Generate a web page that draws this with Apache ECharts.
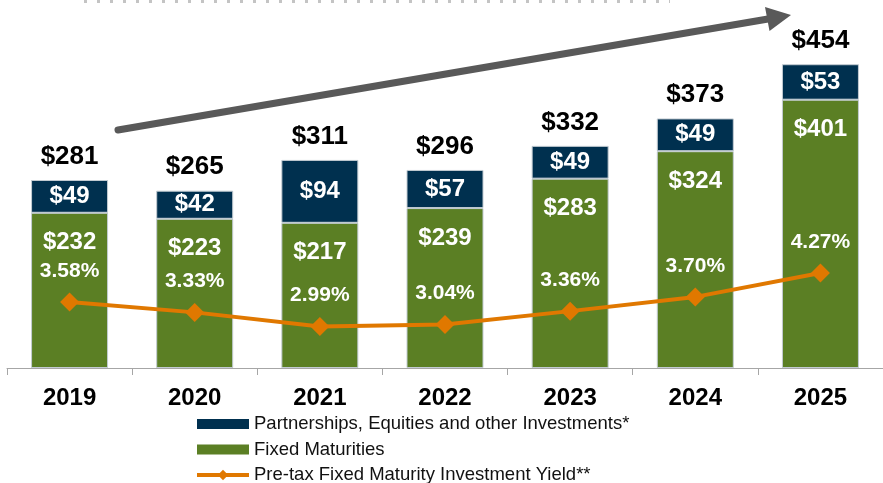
<!DOCTYPE html>
<html>
<head>
<meta charset="utf-8">
<title>Investment portfolio</title>
<script src="https://cdn.jsdelivr.net/npm/echarts@6/dist/echarts.min.js"></script>
<style>
  html, body { margin: 0; padding: 0; background: #ffffff; }
  #chart { width: 883px; height: 483px; }
</style>
</head>
<body>
<div id="chart"></div>
<script>
// values
const years = ['2019', '2020', '2021', '2022', '2023', '2024', '2025'];
const fixedMaturities = [232, 223, 217, 239, 283, 324, 401];
const partnerships = [49, 42, 94, 57, 49, 49, 53];
const totals = [281, 265, 311, 296, 332, 373, 454];
const yields = [3.58, 3.33, 2.99, 3.04, 3.36, 3.70, 4.27];

const NAVY = '#00304f';
const GREEN = '#5b7f24';
const ORANGE = '#e07800';
const FONT = '"Liberation Sans", Arial, sans-serif';

const NAME_PART = 'Partnerships, Equities and other Investments*';
const NAME_FIXED = 'Fixed Maturities';
const NAME_YIELD = 'Pre-tax Fixed Maturity Investment Yield**';

// one legend per row so they stack like the original
const legendRow = (name, top, extra) => Object.assign({
  orient: 'vertical',
  left: 197,
  top: top,
  padding: 0,
  itemWidth: 52,
  itemHeight: 10,
  itemStyle: { borderWidth: 0 },
  data: [name],
  textStyle: { fontSize: 18.5, color: '#111111', fontFamily: FONT }
}, extra);

const chart = echarts.init(document.getElementById('chart'));

chart.setOption({
  animation: false,
  textStyle: { fontFamily: FONT },
  grid: { left: 7, right: -2, top: 0, bottom: 115 },
  legend: [
    legendRow(NAME_PART, 414.5, { icon: 'rect' }),
    legendRow(NAME_FIXED, 440, { icon: 'rect' }),
    legendRow(NAME_YIELD, 465.5, { left: 195, itemHeight: 13, lineStyle: { width: 4 } })
  ],
  xAxis: {
    type: 'category',
    data: years,
    axisLine: { lineStyle: { color: '#a6a6a6', width: 1 } },
    axisTick: { show: true, length: 7, lineStyle: { color: '#a6a6a6' } },
    axisLabel: { margin: 18, fontSize: 24, fontWeight: 'bold', color: '#000000', fontFamily: FONT }
  },
  yAxis: [
    { type: 'value', min: 0, max: 550, show: false },
    { type: 'value', min: 2, max: 10.8, show: false }
  ],
  graphic: [
    {
      type: 'line',
      shape: { x1: 84, y1: 1.5, x2: 670, y2: 1.5 },
      style: { stroke: '#c4c4c4', lineWidth: 3, lineDash: [3, 10] }
    },
    {
      type: 'line',
      shape: { x1: 118, y1: 130, x2: 768, y2: 19 },
      style: { stroke: '#595959', lineWidth: 7, lineCap: 'round' }
    },
    {
      type: 'polygon',
      shape: { points: [[791, 15], [765, 7], [769.5, 31]] },
      style: { fill: '#595959' }
    }
  ],
  series: [
    {
      name: NAME_FIXED,
      type: 'bar',
      stack: 'total',
      barWidth: 77,
      data: fixedMaturities,
      itemStyle: { color: GREEN, borderColor: '#c3ccd3', borderWidth: 1 },
      label: {
        show: true,
        position: 'insideTop',
        distance: 18,
        fontSize: 24,
        fontWeight: 'bold',
        color: '#ffffff',
        formatter: (p) => '$' + p.value
      }
    },
    {
      name: NAME_PART,
      type: 'bar',
      stack: 'total',
      data: partnerships,
      itemStyle: { color: NAVY, borderColor: '#c3ccd3', borderWidth: 1 },
      label: {
        show: true,
        position: 'inside',
        fontSize: 24,
        fontWeight: 'bold',
        color: '#ffffff',
        formatter: (p) => '$' + p.value
      }
    },
    {
      // invisible points at each stack total, only used to carry the label
      name: 'totals',
      type: 'line',
      data: totals,
      symbol: 'circle',
      symbolSize: 1,
      silent: true,
      itemStyle: { color: 'rgba(0,0,0,0)' },
      lineStyle: { width: 0, opacity: 0 },
      label: {
        show: true,
        position: 'top',
        distance: 10,
        fontSize: 26,
        fontWeight: 'bold',
        color: '#000000',
        formatter: (p) => '$' + p.value
      }
    },
    {
      name: NAME_YIELD,
      type: 'line',
      yAxisIndex: 1,
      data: yields,
      symbol: 'diamond',
      symbolSize: 19,
      itemStyle: { color: ORANGE },
      lineStyle: { color: ORANGE, width: 4 },
      label: {
        show: true,
        position: 'top',
        distance: 11,
        fontSize: 21,
        fontWeight: 'bold',
        color: '#ffffff',
        formatter: (p) => p.value.toFixed(2) + '%'
      }
    }
  ]
});
</script>
</body>
</html>
